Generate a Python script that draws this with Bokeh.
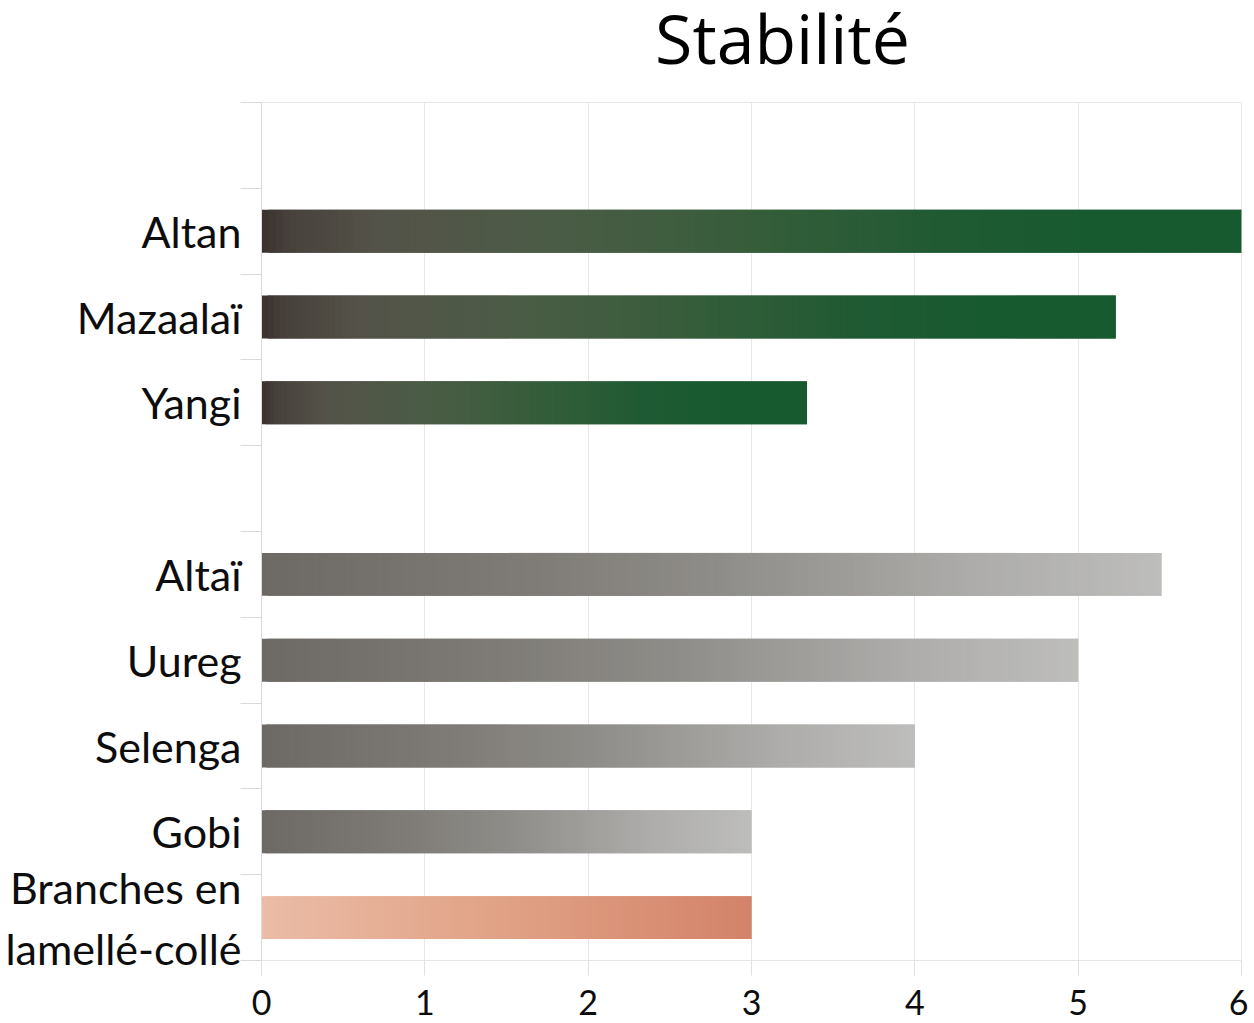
from bokeh.plotting import figure
from bokeh.models import Range1d, FixedTicker, ColumnDataSource
from bokeh.layouts import column
from bokeh.core.properties import value
from bokeh.embed import file_html
from bokeh.resources import INLINE

# ---- data ----
slots = ["", "Altan", "Mazaalaï", "Yangi", "", "Altaï", "Uureg", "Selenga", "Gobi",
         "Branches en\nlamellé-collé"]
values = [None, 6.0, 5.23, 3.34, None, 5.51, 5.0, 4.0, 3.0, 3.0]
groups = [None, "green", "green", "green", None, "grey", "grey", "grey", "grey", "salmon"]
x_ticks = [0, 1, 2, 3, 4, 5, 6]
title_text = "Stabilité"

# gradient stops (fraction along each bar, colour)
gradients = {
    "green": [(0.00, "#3a312d"), (0.03, "#48423d"), (0.12, "#545349"), (0.30, "#4b5c46"),
              (0.50, "#365d3a"), (0.70, "#1f5a33"), (0.85, "#185a30"), (1.00, "#185a30")],
    "grey": [(0.00, "#6d6965"), (0.30, "#7f7c77"), (0.50, "#8e8c88"), (0.80, "#aeadab"),
             (1.00, "#bdbdbb")],
    "salmon": [(0.00, "#ebbca7"), (0.50, "#e0a184"), (1.00, "#d3836a")],
}


def hex2rgb(h):
    h = h.lstrip("#")
    return [int(h[i:i + 2], 16) for i in (0, 2, 4)]


def colour_at(stops, t):
    for (t0, c0), (t1, c1) in zip(stops[:-1], stops[1:]):
        if t <= t1:
            f = 0 if t1 == t0 else (t - t0) / (t1 - t0)
            a, b = hex2rgb(c0), hex2rgb(c1)
            return "#%02x%02x%02x" % tuple(round(a[k] + (b[k] - a[k]) * f) for k in range(3))
    return stops[-1][1]


W = 1248
TOP = 102
n_slots = len(slots)

# ---- main chart ----
p = figure(width=W, height=918, output_backend="svg", toolbar_location=None,
           x_range=Range1d(0, 6), y_range=Range1d(n_slots, 0),
           min_border_left=261, min_border_right=7, min_border_top=0, min_border_bottom=60)

# ---- title strip (shares the x scale of the chart) ----
t = figure(width=W, height=TOP, output_backend="svg", toolbar_location=None,
           x_range=p.x_range, y_range=Range1d(0, TOP),
           x_axis_type=None, y_axis_type=None,
           min_border_left=261, min_border_right=7, min_border_top=0, min_border_bottom=0,
           outline_line_color=None)
t.grid.visible = False
t.text(x=[3.19], y=[TOP - 65], text=[title_text], text_font=value("Open Sans"),
       text_font_size="68px", text_color="#000000", text_align="center",
       text_baseline="alphabetic", y_offset=-28)

p.outline_line_color = "#e6e6e6"
p.background_fill_color = "white"
p.xgrid.grid_line_color = "#e8e8e8"
p.xgrid.ticker = FixedTicker(ticks=x_ticks)
p.ygrid.grid_line_color = None

# bars as gradient slices (slightly overlapping to hide seams)
N = 140
left, right, top, bottom, cols = [], [], [], [], []
for i, (v, g) in enumerate(zip(values, groups)):
    if v is None:
        continue
    stops = gradients[g]
    for k in range(N):
        left.append(v * k / N)
        right.append(min(v, v * (k + 2) / N))
        top.append(i + 0.25)
        bottom.append(i + 0.75)
        cols.append(colour_at(stops, (k + 0.5) / N))
src = ColumnDataSource(dict(left=left, right=right, top=top, bottom=bottom, c=cols))
p.quad(left="left", right="right", top="top", bottom="bottom", fill_color="c",
       line_color=None, source=src)

# y axis
ya = p.yaxis[0]
ya.ticker = FixedTicker(ticks=[i + 0.5 for i in range(n_slots)],
                        minor_ticks=list(range(n_slots + 1)))
ya.major_label_overrides = {i + 0.5: s for i, s in enumerate(slots)}
ya.major_tick_line_color = None
ya.major_tick_out = 0
ya.minor_tick_line_color = "#d9d9d9"
ya.minor_tick_out = 21
ya.minor_tick_in = 0
ya.axis_line_color = "#d9d9d9"
ya.major_label_standoff = -1
ya.major_label_text_font = "Lato"
ya.major_label_text_font_size = "43px"
ya.major_label_text_color = "#0d0d0d"

# x axis
xa = p.xaxis[0]
xa.ticker = FixedTicker(ticks=x_ticks)
xa.axis_line_color = None
xa.major_tick_line_color = "#e0e0e0"
xa.major_tick_out = 15
xa.major_tick_in = 0
xa.minor_tick_line_color = None
xa.major_label_standoff = 14
xa.major_label_text_font = "Lato"
xa.major_label_text_font_size = "34px"
xa.major_label_text_color = "#0d0d0d"

layout = column(t, p, spacing=0)
open("out.html", "w").write(file_html(layout, INLINE))
